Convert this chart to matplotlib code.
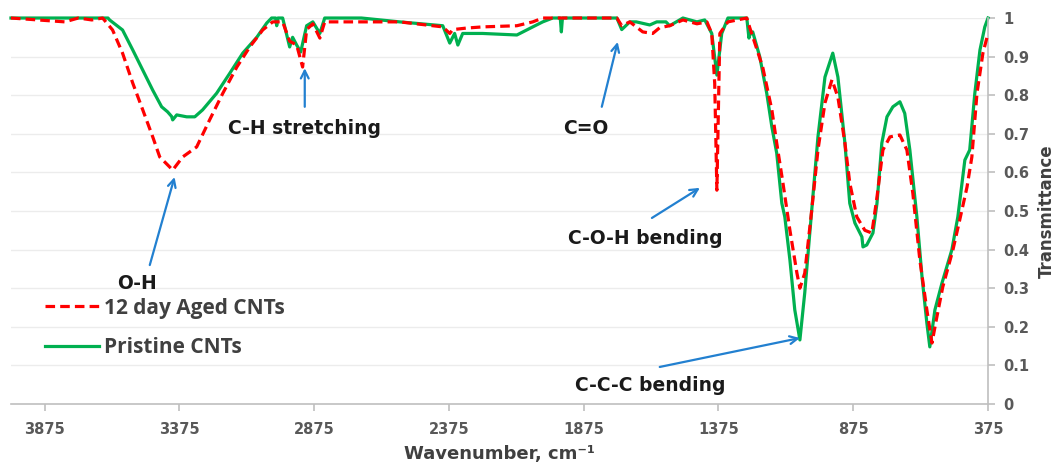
import matplotlib
matplotlib.use("Agg")
import matplotlib.pyplot as plt

# pristine CNTs (green, solid)
wn_pristine = [4000, 3640, 3634, 3586, 3548, 3511, 3474, 3441, 3419, 3404, 3400, 3385,
               3348, 3318, 3289, 3237, 3188, 3140, 3088, 3051, 3033, 3018, 3014, 3010,
               2992, 2966, 2955, 2940, 2925, 2903, 2880, 2854, 2836, 2700, 2558, 2398,
               2372, 2354, 2342, 2324, 2250, 2123, 2064, 2027, 1990, 1962, 1958, 1954,
               1752, 1734, 1704, 1680, 1630, 1604, 1570, 1556, 1507, 1455, 1426, 1400,
               1381, 1363, 1340, 1270, 1262, 1259, 1248, 1222, 1196, 1177, 1159, 1140,
               1129, 1110, 1092, 1073, 1055, 1029, 1006, 980, 951, 932, 906, 888, 869,
               843, 839, 825, 802, 787, 769, 750, 728, 702, 684, 665, 639, 620, 602, 591,
               572, 546, 509, 487, 461, 443, 424, 405, 387, 375]
t_pristine = [1.0, 1.0, 0.995, 0.969, 0.917, 0.865, 0.813, 0.77, 0.757, 0.745, 0.736, 0.749,
              0.744, 0.744, 0.762, 0.805, 0.857, 0.909, 0.95, 0.987, 1.0, 1.0, 0.98, 1.0,
              1.0, 0.925, 0.95, 0.93, 0.912, 0.98, 0.99, 0.96, 1.0, 1.0, 0.99, 0.98,
              0.935, 0.96, 0.93, 0.96, 0.96, 0.956, 0.977, 0.99, 1.0, 1.0, 0.964, 1.0,
              1.0, 0.97, 0.99, 0.99, 0.982, 0.99, 0.99, 0.98, 1.0, 0.99, 0.995, 0.96,
              0.852, 0.96, 1.0, 1.0, 0.948, 0.956, 0.964, 0.9, 0.805, 0.718, 0.65, 0.52,
              0.485, 0.373, 0.244, 0.166, 0.288, 0.503, 0.692, 0.847, 0.909, 0.847, 0.676, 0.52, 0.469,
              0.433, 0.407, 0.412, 0.443, 0.52, 0.676, 0.744, 0.77, 0.783, 0.753, 0.658, 0.485, 0.33, 0.21, 0.148,
              0.244, 0.313, 0.4, 0.485, 0.632, 0.658, 0.805, 0.917, 0.977, 1.0]

# 12 day aged CNTs (red, dashed)
wn_aged = [4000, 3900, 3800, 3750, 3700, 3660, 3623, 3586, 3548, 3511, 3474, 3448, 3411,
           3400, 3363, 3311, 3263, 3214, 3162, 3114, 3066, 3029, 3003, 2992, 2966, 2940,
           2918, 2903, 2880, 2854, 2836, 2743, 2558, 2398, 2372, 2361, 2309, 2250, 2123,
           2064, 2027, 1752, 1734, 1704, 1656, 1619, 1593, 1556, 1507, 1455, 1418, 1400,
           1389, 1381, 1370, 1340, 1270, 1259, 1211, 1177, 1159, 1136, 1110, 1084, 1073,
           1055, 1029, 1006, 980, 954, 932, 906, 888, 862, 832, 806, 787, 765, 739, 702,
           676, 654, 628, 602, 583, 565, 543, 505, 480, 453, 435, 416, 394, 375]
t_aged = [1.0, 0.995, 0.99, 1.0, 0.995, 1.0, 0.969, 0.909, 0.831, 0.762, 0.692, 0.64, 0.614,
          0.606, 0.64, 0.666, 0.736, 0.805, 0.873, 0.925, 0.969, 0.99, 0.99, 0.99, 0.94, 0.93,
          0.873, 0.97, 0.985, 0.948, 0.99, 0.99, 0.99, 0.977, 0.96, 0.97, 0.974, 0.977, 0.98,
          0.99, 1.0, 1.0, 0.98, 0.99, 0.964, 0.96, 0.975, 0.98, 0.995, 0.985, 0.99, 0.96,
          0.83, 0.554, 0.96, 0.99, 1.0, 0.975, 0.873, 0.762, 0.676, 0.573, 0.45, 0.339, 0.3,
          0.339, 0.503, 0.658, 0.78, 0.84, 0.795, 0.676, 0.573, 0.485, 0.45, 0.443, 0.536, 0.658, 0.692, 0.697,
          0.658, 0.546, 0.373, 0.244, 0.158, 0.225, 0.303, 0.4, 0.477, 0.562, 0.64, 0.805, 0.909, 0.96]

x_ticks = [3875, 3375, 2875, 2375, 1875, 1375, 875, 375]
y_ticks = [0, 0.1, 0.2, 0.3, 0.4, 0.5, 0.6, 0.7, 0.8, 0.9, 1]
y_ticklabels = ["0", "0.1", "0.2", "0.3", "0.4", "0.5", "0.6", "0.7", "0.8", "0.9", "1"]

gray = "#595959"
axis_gray = "#bfbfbf"
arrow_blue = "#2280d0"

fig = plt.figure(figsize=(10.64, 4.63), dpi=100)
ax = fig.add_axes([0.0103, 0.1274, 0.9183, 0.8337])

ax.plot(wn_aged, t_aged, color="#ff0000", lw=2.3, ls=(0, (3, 1.6)),
        label="12 day Aged CNTs", clip_on=False, zorder=3)
ax.plot(wn_pristine, t_pristine, color="#00b050", lw=2.3, solid_joinstyle="round",
        label="Pristine CNTs", clip_on=False, zorder=2)

ax.set_xlim(4000, 375)
ax.set_ylim(0, 1)
ax.set_xticks(x_ticks)
ax.set_yticks(y_ticks)
ax.set_yticklabels(y_ticklabels)
ax.yaxis.tick_right()
ax.yaxis.set_label_position("right")
ax.grid(axis="y", color="#ececec", lw=1)
ax.set_axisbelow(True)

for side in ["left", "top"]:
    ax.spines[side].set_visible(False)
for side in ["bottom", "right"]:
    ax.spines[side].set_color(axis_gray)
    ax.spines[side].set_linewidth(1.2)

ax.tick_params(axis="both", colors=axis_gray, length=5, width=1.2)
for lab in ax.get_xticklabels() + ax.get_yticklabels():
    lab.set_color(gray)
    lab.set_fontweight("bold")
    lab.set_fontsize(10.5)
ax.tick_params(axis="x", pad=8)
ax.tick_params(axis="y", pad=6)

ax.set_xlabel("Wavenumber, cm⁻¹", fontsize=13, fontweight="bold", color="#404040", labelpad=6)
ax.set_ylabel("Transmittance", fontsize=12, fontweight="bold", color="#404040", labelpad=6)

leg = ax.legend(loc="center left", bbox_to_anchor=(0.0348, 0.197), frameon=False,
                borderpad=0, borderaxespad=0, handlelength=2.6, handletextpad=0.25,
                labelspacing=0.9, prop={"family": "Open Sans", "weight": "bold", "size": 15})
for t in leg.get_texts():
    t.set_color("#404040")

ann = dict(fontsize=13.5, fontweight="bold", color="#1a1a1a", family="DejaVu Sans",
           ha="center", va="center")
arr = dict(arrowstyle="->", color=arrow_blue, lw=1.6, shrinkA=0, shrinkB=0,
           mutation_scale=14)

ax.text(3534, 0.313, "O-H", **ann)
ax.annotate("", xy=(3393, 0.588), xytext=(3485, 0.36), arrowprops=arr)
ax.text(2910, 0.715, "C-H stretching", **ann)
ax.annotate("", xy=(2910, 0.87), xytext=(2910, 0.77), arrowprops=arr)
ax.text(1867, 0.715, "C=O", **ann)
ax.annotate("", xy=(1749, 0.938), xytext=(1808, 0.77), arrowprops=arr)
ax.text(1645, 0.43, "C-O-H bending", **ann)
ax.annotate("", xy=(1444, 0.56), xytext=(1622, 0.482), arrowprops=arr)
ax.text(1630, 0.049, "C-C-C bending", **ann)
ax.annotate("", xy=(1073, 0.171), xytext=(1593, 0.096), arrowprops=arr)

fig.savefig("out.png", dpi=100)
